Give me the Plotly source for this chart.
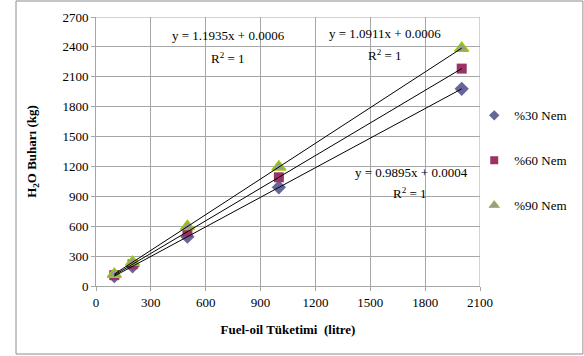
import plotly.graph_objects as go

fuel = [100, 200, 500, 1000, 2000]
nem30 = [99, 198, 495, 990, 1979]
nem60 = [109, 218, 546, 1091, 2182]
nem90 = [119, 239, 597, 1194, 2387]
names = ["%30 Nem", "%60 Nem", "%90 Nem"]
slopes = [0.9895, 1.0911, 1.1935]
intercepts = [0.0004, 0.0006, 0.0006]
eq_texts = ["y = 0.9895x + 0.0004", "y = 1.0911x + 0.0006", "y = 1.1935x + 0.0006"]

FONT = "Times New Roman, Liberation Serif, serif"
fig = go.Figure()

styles = [
    dict(symbol="diamond", size=11, color="#666699", line=dict(width=0)),
    dict(symbol="square", size=10, color="#993366", line=dict(width=0)),
    dict(symbol="triangle-up", size=12, color="#999999", line=dict(width=1.5, color="#99cc00")),
]
for i, (ys, nm) in enumerate(zip([nem30, nem60, nem90], names)):
    fig.add_trace(go.Scatter(x=fuel, y=ys, mode="markers", name=nm, marker=styles[i],
                             showlegend=False))

for s, b in zip(slopes, intercepts):
    xs = [fuel[0], fuel[-1]]
    fig.add_trace(go.Scatter(x=xs, y=[s * x + b for x in xs], mode="lines",
                             line=dict(color="black", width=1), showlegend=False,
                             hoverinfo="skip"))

# legend entries with smaller symbols (as in the reference legend)
for i, nm in enumerate(names):
    st = dict(styles[i])
    st["size"] = [8, 8, 9][i]
    if i == 2:
        st["line"] = dict(width=1, color="#99cc00")
    fig.add_trace(go.Scatter(x=[None], y=[None], mode="markers", name=nm, marker=st,
                             legendgroup=nm, showlegend=True))

# equation annotations (positions in data coords): eq x, eq y, R2 x, R2 y
eq_pos = [(1723, 1144, 1717, 933), (1580, 2539, 1580, 2319), (727, 2519, 722, 2288)]
for (ex, ey, rx, ry), t in zip(eq_pos, eq_texts):
    fig.add_annotation(x=ex, y=ey, text=t, showarrow=False, font=dict(family=FONT, size=13, color="black"))
    fig.add_annotation(x=rx, y=ry, text="R<sup>2</sup> = 1", showarrow=False,
                       font=dict(family=FONT, size=13, color="black"))

axis_common = dict(showgrid=True, gridcolor="#a6a6a6", gridwidth=1, showline=True,
                   linecolor="#a6a6a6", linewidth=1, ticks="outside", ticklen=4,
                   tickcolor="#a6a6a6", zeroline=False, mirror=False,
                   tickfont=dict(family=FONT, size=13, color="black"))
fig.update_xaxes(range=[0, 2100], dtick=300, tick0=0,
                 title=dict(text="<b>Fuel-oil Tüketimi  (litre)</b>", standoff=16,
                            font=dict(family=FONT, size=13, color="black")), **axis_common)
fig.update_yaxes(range=[0, 2700], dtick=300, tick0=0,
                 title=dict(text="<b>H<sub>2</sub>O Buharı (kg)</b>", standoff=22,
                            font=dict(family=FONT, size=13, color="black")), **axis_common)

fig.add_shape(type="line", xref="x", yref="y", x0=2100, x1=2100, y0=0, y1=2700,
              line=dict(color="#a6a6a6", width=1))
fig.add_shape(type="line", xref="x", yref="y", x0=0, x1=2100, y0=2700, y1=2700,
              line=dict(color="#a6a6a6", width=1))

# outer chart border
fig.add_shape(type="rect", xref="paper", yref="paper", x0=-0.2083, x1=1.268, y0=-0.2528, y1=1.0595,
              line=dict(color="#8c8c8c", width=1), layer="below")

fig.update_layout(
    width=584, height=356,
    margin=dict(l=96, r=104, t=17, b=70, autoexpand=False),
    paper_bgcolor="white", plot_bgcolor="white",
    font=dict(family=FONT, size=13, color="black"),
    legend=dict(x=0.985, y=0.69, xanchor="left", yanchor="top", tracegroupgap=25,
                font=dict(family=FONT, size=13, color="black"), itemwidth=30,
                bgcolor="rgba(0,0,0,0)"),
    showlegend=True,
)

fig.write_html("out.html")
